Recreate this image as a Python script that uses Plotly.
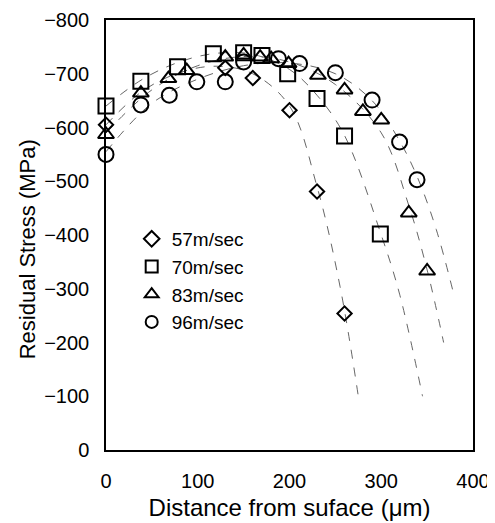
import plotly.graph_objects as go

# ---- data ----
x57 = [0, 130, 160, 200, 230, 260]
y57 = [-605, -711, -692, -632, -481, -254]

x70 = [0, 38, 78, 117, 150, 170, 198, 230, 260, 299]
y70 = [-640, -686, -713, -737, -739, -734, -700, -654, -584, -402]

x83 = [0, 38, 68, 88, 130, 150, 168, 180, 199, 231, 260, 280, 300, 330, 350]
y83 = [-587, -664, -691, -706, -731, -735, -731, -728, -719, -697, -670, -630, -614, -441, -333]

x96 = [0, 38, 69, 99, 130, 150, 188, 211, 250, 290, 320, 339]
y96 = [-550, -642, -660, -685, -685, -722, -728, -719, -702, -651, -573, -503]

# dashed trend curves
fx57 = [0, 40, 80, 120, 160, 200, 230, 255, 275]
fy57 = [-605, -668, -702, -714, -700, -640, -490, -305, -100]
fx70 = [0, 40, 80, 120, 160, 200, 230, 260, 300, 320, 345]
fy70 = [-640, -690, -722, -738, -736, -708, -660, -585, -400, -290, -100]
fx83 = [0, 50, 100, 150, 200, 250, 300, 330, 350, 368]
fy83 = [-590, -670, -715, -732, -722, -680, -590, -455, -335, -200]
fx96 = [0, 50, 100, 150, 200, 250, 290, 320, 340, 360, 379]
fy96 = [-555, -645, -690, -715, -720, -700, -650, -575, -505, -410, -290]

labels = ["57m/sec", "70m/sec", "83m/sec", "96m/sec"]
symbols = ["diamond-open", "square-open", "triangle-up-open", "circle-open"]
sizes = [11, 15, 14, 15]
xticks = [0, 100, 200, 300, 400]
yticks = [0, -100, -200, -300, -400, -500, -600, -700, -800]

fig = go.Figure()

for fx, fy in [(fx57, fy57), (fx70, fy70), (fx83, fy83), (fx96, fy96)]:
    fig.add_trace(go.Scatter(x=fx, y=fy, mode="lines", line_shape="spline",
                             line=dict(color="#666666", width=1, dash="dash"),
                             showlegend=False, hoverinfo="skip"))

for xs, ys, lab, sym, sz in zip([x57, x70, x83, x96], [y57, y70, y83, y96],
                                labels, symbols, sizes):
    fig.add_trace(go.Scatter(x=xs, y=ys, mode="markers", name=lab,
                             marker=dict(symbol=sym, size=sz, color="black",
                                         line=dict(color="black", width=2)),
                             cliponaxis=False))

fig.update_layout(
    width=487, height=515,
    margin=dict(l=98, r=22, t=12, b=73),
    paper_bgcolor="white", plot_bgcolor="white",
    font=dict(family="Liberation Sans, Arial, sans-serif", size=20, color="black"),
    legend=dict(x=0.07, y=0.535, xanchor="left", yanchor="top",
                bgcolor="rgba(0,0,0,0)", font=dict(size=19),
                itemsizing="constant", tracegroupgap=0),
    xaxis=dict(range=[0, 400], tickvals=xticks, showgrid=False, zeroline=False,
               showline=True, linecolor="black", linewidth=1.5, mirror=True,
               ticks="", ticklabelstandoff=12, automargin=False,
               ticklabeloverflow="allow",
               title=dict(text="Distance from suface (μm)", standoff=8)),
    yaxis=dict(range=[0, -800], tickvals=yticks, showgrid=False, zeroline=False,
               showline=True, linecolor="black", linewidth=1.5, mirror=True,
               ticks="", ticklabelstandoff=11, automargin=False,
               ticklabeloverflow="allow"),
    annotations=[dict(text="Residual Stress (MPa)", textangle=-90,
                      xref="paper", yref="paper", x=-0.215, y=0.467,
                      xanchor="center", yanchor="middle", showarrow=False,
                      font=dict(size=22))],
)

fig.write_html("out.html")
